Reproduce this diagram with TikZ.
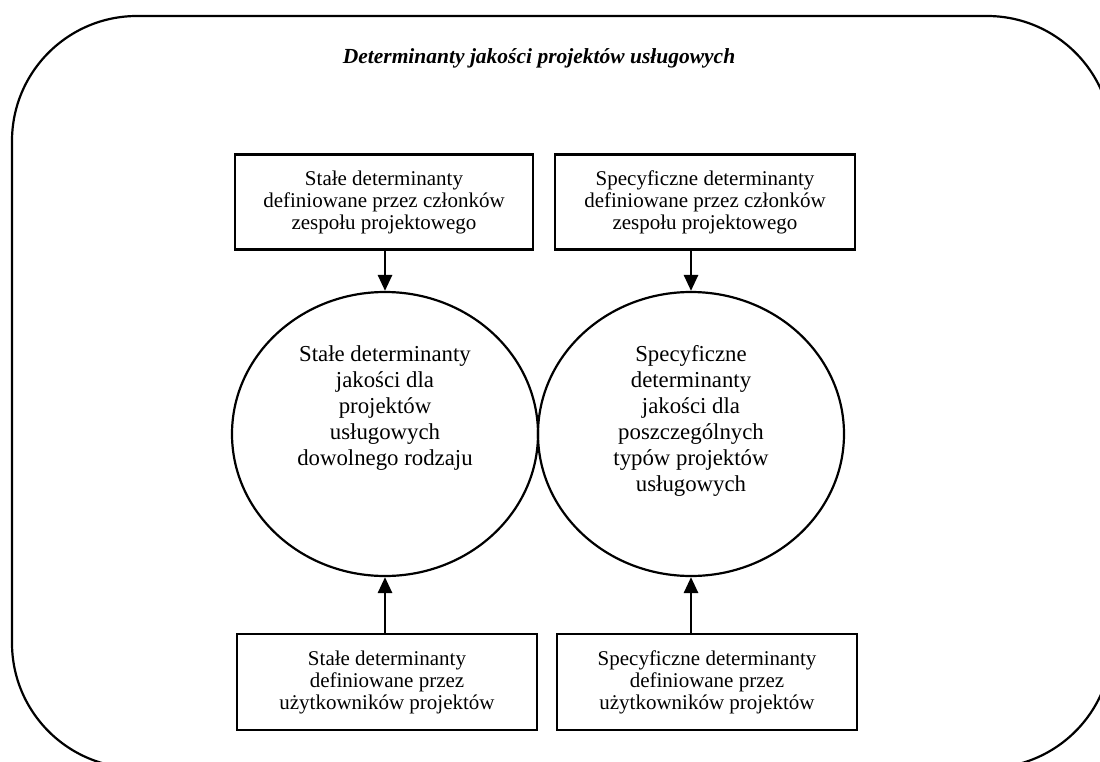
\documentclass[tikz,border=0pt]{standalone}
\usepackage{fontspec}
\setmainfont{Liberation Serif}
\usetikzlibrary{shapes.geometric, arrows.meta, positioning}
\tikzset{
        x=1pt, y=-1pt,
        box/.style={draw, line width=2.2pt, minimum width=300pt, minimum height=95pt,
                    align=center, font=\fontsize{21}{22}\selectfont},
        ell/.style={draw, ellipse, line width=2.2pt, minimum width=306pt, minimum height=284pt},
        elltext/.style={align=center, font=\fontsize{22.8}{26}\selectfont},
        arr/.style={line width=2.8pt, -{Triangle[length=16pt, width=14pt]}}
        }
\begin{document}
\begin{tikzpicture}
        \useasboundingbox (0,0) rectangle (1100,762);
        \begin{scope}
        \clip (0,0) rectangle (1100,762);
        \draw[line width=2.2pt, rounded corners=125pt] (12,16) rectangle (1112,768);
        \end{scope}
        \node[font=\fontsize{21.5}{24}\selectfont\bfseries\itshape] (title) at (539,58) {Determinanty jakości projektów usługowych};
        % circles
        \node[ell] (c1) at (385,434) {};
        \node[ell] (c2) at (691,434) {};
        \node[elltext] (t1) at (385,408) {Stałe determinanty\\jakości dla\\projektów\\usługowych\\dowolnego rodzaju};
        \node[elltext] (t2) at (691,421) {Specyficzne\\determinanty\\jakości dla\\poszczególnych\\typów projektów\\usługowych};
        % boxes
        \node[box, minimum width=298pt] (b1) at (384,202) {Stałe determinanty\\definiowane przez członków\\zespołu projektowego};
        \node[box] (b2) at (705,202) {Specyficzne determinanty\\definiowane przez członków\\zespołu projektowego};
        \node[box, minimum height=96pt] (b3) at (387,682) {Stałe determinanty\\definiowane przez\\użytkowników projektów};
        \node[box, minimum height=96pt] (b4) at (707,682) {Specyficzne determinanty\\definiowane przez\\użytkowników projektów};
        \draw[arr] (c1.north |- b1.south) -- (c1.north);
        \draw[arr] (c2.north |- b2.south) -- (c2.north);
        \draw[arr] (c1.south |- b3.north) -- (c1.south);
        \draw[arr] (c2.south |- b4.north) -- (c2.south);
\end{tikzpicture}
\end{document}
